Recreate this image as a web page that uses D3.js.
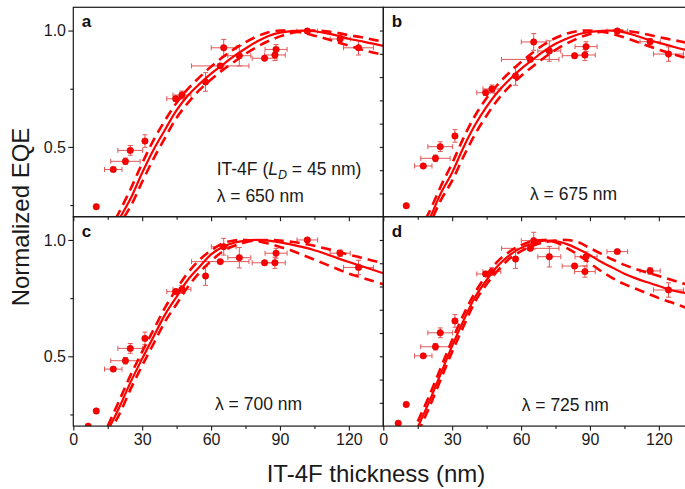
<!DOCTYPE html>
<html>
<head>
<meta charset="utf-8">
<script src="https://cdn.jsdelivr.net/npm/d3@7"></script>
<style>
  html, body { margin: 0; padding: 0; background: #fff; }
  svg { display: block; font-family: "Liberation Sans", Arial, Helvetica, sans-serif; }
</style>
</head>
<body>
<svg id="chart" width="685" height="489"></svg>
<script>
// ---- measured device data (thickness in nm, normalized EQE) ----
const thickness    = [10.0, 17.4, 22.7, 24.8, 31.2, 44.6, 47.3, 57.6, 64.0, 65.5, 72.3, 83.3, 87.8, 88.3, 101.9, 116.2, 124.2];
const thicknessErr = [0.8, 3.8, 6.4, 5.4, 0.8, 3.9, 3.9, 0.8, 12.5, 5.4, 5.0, 5.4, 4.5, 4.8, 4.5, 4.4, 6.5];
const eqeErr       = [0.005, 0.008, 0.014, 0.021, 0.027, 0.011, 0.017, 0.040, 0.009, 0.036, 0.044, 0.009, 0.024, 0.021, 0.007, 0.014, 0.031];

const eqe650 = [0.243, 0.403, 0.438, 0.485, 0.525, 0.707, 0.723, 0.779, 0.848, 0.926, 0.892, 0.881, 0.895, 0.919, 0.998, 0.964, 0.926];
const eqe675 = [0.247, 0.418, 0.451, 0.501, 0.547, 0.733, 0.749, 0.805, 0.876, 0.951, 0.912, 0.892, 0.895, 0.931, 0.998, 0.952, 0.899];
const eqe700 = [0.265, 0.445, 0.481, 0.534, 0.577, 0.778, 0.788, 0.845, 0.907, 0.971, 0.924, 0.902, 0.902, 0.943, 1.000, 0.943, 0.882];
const eqe725 = [0.293, 0.502, 0.541, 0.601, 0.652, 0.854, 0.864, 0.918, 0.964, 0.997, 0.928, 0.888, 0.864, 0.928, 0.950, 0.867, 0.785];

// thinnest films (only resolved at the longer wavelengths)
const thinThickness = [6.5];
const thinEqe700 = [0.200];
const thinEqe725 = [0.212];

// ---- simulated curves: L_D = 45 nm (solid) and the bounds (dashed) ----
const simThickness = [15, 20, 25, 30, 35, 40, 45, 50, 55, 60, 65, 70, 75, 80, 85, 90, 95, 100, 105, 110, 115, 120, 125, 130, 135];

const sim650     = [0.110, 0.190, 0.279, 0.389, 0.489, 0.575, 0.658, 0.722, 0.771, 0.815, 0.853, 0.890, 0.923, 0.953, 0.977, 0.991, 0.998, 1.000, 0.997, 0.989, 0.978, 0.965, 0.955, 0.945, 0.934];
const sim650Low  = [0.130, 0.220, 0.320, 0.430, 0.530, 0.615, 0.690, 0.750, 0.800, 0.845, 0.885, 0.920, 0.950, 0.975, 0.993, 1.000, 0.998, 0.990, 0.978, 0.965, 0.950, 0.935, 0.920, 0.907, 0.895];
const sim650High = [0.080, 0.165, 0.245, 0.350, 0.450, 0.540, 0.625, 0.690, 0.745, 0.790, 0.830, 0.865, 0.900, 0.930, 0.955, 0.975, 0.990, 0.998, 1.000, 0.997, 0.990, 0.980, 0.972, 0.962, 0.952];

const sim675     = [0.110, 0.190, 0.300, 0.390, 0.500, 0.595, 0.673, 0.738, 0.790, 0.835, 0.875, 0.912, 0.943, 0.966, 0.984, 0.994, 0.999, 1.000, 0.992, 0.978, 0.962, 0.947, 0.934, 0.921, 0.910];
const sim675Low  = [0.130, 0.220, 0.330, 0.430, 0.540, 0.635, 0.710, 0.770, 0.820, 0.865, 0.905, 0.940, 0.968, 0.987, 0.998, 1.000, 0.995, 0.985, 0.970, 0.953, 0.935, 0.918, 0.902, 0.887, 0.873];
const sim675High = [0.080, 0.165, 0.270, 0.355, 0.460, 0.555, 0.635, 0.705, 0.760, 0.805, 0.845, 0.883, 0.917, 0.945, 0.968, 0.985, 0.995, 1.000, 0.999, 0.993, 0.983, 0.972, 0.962, 0.952, 0.943];

const sim700     = [0.180, 0.280, 0.390, 0.490, 0.585, 0.680, 0.756, 0.830, 0.885, 0.938, 0.970, 0.988, 0.997, 1.000, 0.997, 0.990, 0.980, 0.969, 0.956, 0.940, 0.922, 0.905, 0.889, 0.873, 0.857];
const sim700Low  = [0.200, 0.310, 0.420, 0.520, 0.615, 0.710, 0.790, 0.860, 0.915, 0.955, 0.985, 0.998, 1.000, 0.995, 0.985, 0.970, 0.955, 0.935, 0.915, 0.895, 0.875, 0.855, 0.840, 0.825, 0.810];
const sim700High = [0.160, 0.250, 0.360, 0.460, 0.555, 0.650, 0.725, 0.800, 0.860, 0.910, 0.950, 0.975, 0.990, 0.998, 1.000, 0.998, 0.992, 0.985, 0.975, 0.963, 0.950, 0.937, 0.925, 0.912, 0.900];

const sim725     = [0.195, 0.305, 0.425, 0.545, 0.655, 0.755, 0.828, 0.890, 0.935, 0.966, 0.985, 0.997, 0.995, 0.982, 0.960, 0.935, 0.905, 0.880, 0.855, 0.835, 0.818, 0.802, 0.785, 0.775, 0.765];
const sim725Low  = [0.220, 0.330, 0.450, 0.570, 0.680, 0.775, 0.850, 0.910, 0.950, 0.978, 0.995, 1.000, 0.990, 0.965, 0.935, 0.900, 0.865, 0.835, 0.810, 0.790, 0.770, 0.750, 0.733, 0.715, 0.700];
const sim725High = [0.170, 0.280, 0.400, 0.520, 0.630, 0.735, 0.810, 0.870, 0.920, 0.952, 0.975, 0.990, 0.997, 1.000, 0.990, 0.965, 0.940, 0.915, 0.893, 0.875, 0.860, 0.845, 0.830, 0.815, 0.800];

// ---- labels ----
const panelLetters = ["a", "b", "c", "d"];
const wavelengths = [650, 675, 700, 725];
const xMajorTicks = [0, 30, 60, 90, 120];
const xMinorTicks = [15, 45, 75, 105];
const yMajorTicks = [0.5, 1.0];
const yMinorTicks = [0.25, 0.75];
const yFineTicks = [0.3, 0.4, 0.5, 0.6, 0.7, 0.8, 0.9, 1.0];

// ---- layout ----
const plotLeft = 73.3, plotTop = 7.3, pw = 310, ph = 209.4;
const red = "#ff0000";

const panels = [
  { col: 0, row: 0, x: thickness, y: eqe650, xt: [], yt: [], sim: sim650, lo: sim650Low, hi: sim650High },
  { col: 1, row: 0, x: thickness, y: eqe675, xt: [], yt: [], sim: sim675, lo: sim675Low, hi: sim675High },
  { col: 0, row: 1, x: thickness, y: eqe700, xt: thinThickness, yt: thinEqe700, sim: sim700, lo: sim700Low, hi: sim700High },
  { col: 1, row: 1, x: thickness, y: eqe725, xt: thinThickness, yt: thinEqe725, sim: sim725, lo: sim725Low, hi: sim725High }
];

const svg = d3.select("#chart");
const xs = d3.scaleLinear().domain([0, 135]).range([0, pw]);
const ys = d3.scaleLinear().domain([0.2, 1.1]).range([ph, 0]);

const line = d3.line()
  .x(d => xs(d[0]))
  .y(d => ys(d[1]))
  .curve(d3.curveCatmullRom.alpha(0.5));

panels.forEach((p, i) => {
  const g = svg.append("g")
    .attr("transform", `translate(${plotLeft + p.col * pw},${plotTop + p.row * ph})`);

  const clipId = "clip" + i;
  g.append("clipPath").attr("id", clipId)
    .append("rect").attr("width", pw).attr("height", ph);

  const plot = g.append("g").attr("clip-path", `url(#${clipId})`);

  // measured points with error bars
  const pts = p.x.map((t, k) => ({ t, v: p.y[k], dt: thicknessErr[k], dv: eqeErr[k] }))
    .concat(p.xt.map((t, k) => ({ t, v: p.yt[k], dt: 0.5, dv: 0.004 })));

  const eb = plot.append("g")
    .attr("stroke", "#e05858").attr("stroke-width", 1).attr("fill", "none");
  pts.forEach(d => {
    const cx = xs(d.t), cy = ys(d.v);
    const x0 = xs(d.t - d.dt), x1 = xs(d.t + d.dt);
    const y0 = ys(d.v - d.dv), y1 = ys(d.v + d.dv);
    if (x1 - x0 > 3) {
      eb.append("line").attr("x1", x0).attr("x2", x1).attr("y1", cy).attr("y2", cy);
      eb.append("line").attr("x1", x0).attr("x2", x0).attr("y1", cy - 2.5).attr("y2", cy + 2.5);
      eb.append("line").attr("x1", x1).attr("x2", x1).attr("y1", cy - 2.5).attr("y2", cy + 2.5);
    }
    if (y0 - y1 > 3) {
      eb.append("line").attr("x1", cx).attr("x2", cx).attr("y1", y0).attr("y2", y1);
      eb.append("line").attr("x1", cx - 2.5).attr("x2", cx + 2.5).attr("y1", y0).attr("y2", y0);
      eb.append("line").attr("x1", cx - 2.5).attr("x2", cx + 2.5).attr("y1", y1).attr("y2", y1);
    }
  });

  plot.append("g").selectAll("circle").data(pts).join("circle")
    .attr("cx", d => xs(d.t)).attr("cy", d => ys(d.v)).attr("r", 3.2)
    .attr("fill", red).attr("stroke", "#d00000").attr("stroke-width", 0.6);

  // simulated curves
  const toPts = arr => simThickness.map((t, k) => [t, arr[k]]);
  plot.append("path").attr("d", line(toPts(p.lo)))
    .attr("fill", "none").attr("stroke", red).attr("stroke-width", 2.6)
    .attr("stroke-dasharray", "10,6");
  plot.append("path").attr("d", line(toPts(p.hi)))
    .attr("fill", "none").attr("stroke", red).attr("stroke-width", 2.6)
    .attr("stroke-dasharray", "10,6");
  plot.append("path").attr("d", line(toPts(p.sim)))
    .attr("fill", "none").attr("stroke", red).attr("stroke-width", 2.2);

  // axes
  const showX = p.row === 1, showY = p.col === 0;
  const fmtY = d3.format(".1f");

  const xMaj = g.append("g").attr("transform", `translate(0,${ph})`)
    .call(d3.axisBottom(xs).tickValues(xMajorTicks).tickSize(4.5).tickPadding(3)
      .tickFormat(showX ? d3.format("d") : () => ""));
  const xMin = g.append("g").attr("transform", `translate(0,${ph})`)
    .call(d3.axisBottom(xs).tickValues(xMinorTicks).tickSize(3).tickFormat(() => ""));

  let yAxes = [];
  if (showY) {
    yAxes.push(g.append("g").call(d3.axisLeft(ys).tickValues(yMajorTicks).tickSize(5).tickPadding(2.3).tickFormat(fmtY)));
    yAxes.push(g.append("g").call(d3.axisLeft(ys).tickValues(yMinorTicks).tickSize(3).tickFormat(() => "")));
  } else {
    yAxes.push(g.append("g").call(d3.axisLeft(ys).tickValues(yFineTicks).tickSize(3.5).tickFormat(() => "")));
  }

  [xMaj, xMin, ...yAxes].forEach(a => {
    a.select(".domain").remove();
    a.selectAll(".tick line").attr("stroke", "#1a1a1a").attr("stroke-width", 1.1);
    a.selectAll(".tick text").attr("fill", "#1a1a1a")
      .style("font-size", "16px").style("font-family", "'Liberation Sans', Arial, sans-serif");
  });

  // frame
  g.append("rect").attr("width", pw).attr("height", ph)
    .attr("fill", "none").attr("stroke", "#1a1a1a").attr("stroke-width", 1.2);

  // panel letter
  g.append("text").attr("x", 8.5).attr("y", 20).text(panelLetters[i])
    .attr("fill", "#111").style("font-size", "17px").style("font-weight", "bold");

  // wavelength annotation
  const ann = g.append("text")
    .attr("x", i === 0 ? 143.4 : i === 1 ? 146.7 : i === 2 ? 141.7 : 138.4)
    .attr("y", i === 0 ? 194.4 : i === 1 ? 192.7 : i === 2 ? 193.3 : 194.3)
    .attr("fill", "#1a1a1a").style("font-size", "17.5px");
  ann.text(`\u03bb = ${wavelengths[i]} nm`);

  if (i === 0) {
    const t = g.append("text").attr("x", 143.4).attr("y", 167.7)
      .attr("fill", "#1a1a1a").style("font-size", "17.5px");
    t.append("tspan").text("IT-4F (");
    t.append("tspan").style("font-style", "italic").text("L");
    t.append("tspan").style("font-style", "italic").style("font-size", "12.5px")
      .attr("dy", 4).text("D");
    t.append("tspan").attr("dy", -4).text(" = 45 nm)");
  }
});

// axis titles
svg.append("text")
  .attr("x", 376).attr("y", 481.5)
  .attr("text-anchor", "middle").attr("fill", "#1a1a1a")
  .style("font-size", "24px")
  .text("IT-4F thickness (nm)");

svg.append("text")
  .attr("transform", "translate(28.5,217) rotate(-90)")
  .attr("text-anchor", "middle").attr("fill", "#1a1a1a")
  .style("font-size", "24px")
  .text("Normalized EQE");
</script>
</body>
</html>
